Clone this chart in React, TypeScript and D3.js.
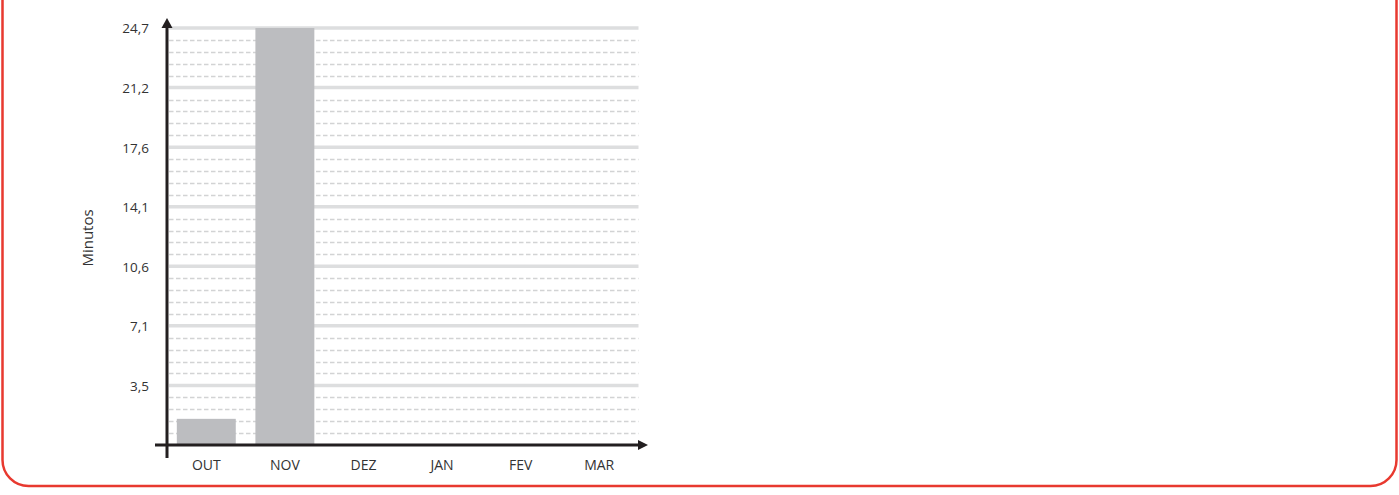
import React, { useRef, useEffect } from 'react';
import * as d3 from 'd3';

// Data
const months = ['OUT', 'NOV', 'DEZ', 'JAN', 'FEV', 'MAR'];
const minutes = [1.55, 24.7, 0, 0, 0, 0];
const tickValues = [3.53, 7.06, 10.59, 14.11, 17.64, 21.17, 24.7];
const tickLabels = ['3,5', '7,1', '10,6', '14,1', '17,6', '21,2', '24,7'];
const yLabel = 'Minutos';

const App = () => {
  const svgRef = useRef<SVGSVGElement>(null);

  useEffect(() => {
    const W = 1399;
    const H = 495;
    const svg = d3.select(svgRef.current).attr('width', W).attr('height', H);
    svg.selectAll('*').remove();

    const font = '"Open Sans", "Noto Sans", sans-serif';

    // Frame
    svg.append('rect')
      .attr('x', 2.5).attr('y', -40)
      .attr('width', W - 5).attr('height', 526)
      .attr('rx', 26).attr('ry', 26)
      .attr('fill', 'none')
      .attr('stroke', '#e8392f')
      .attr('stroke-width', 2.5);

    // Plot area
    const x0 = 167, x1 = 638.5;
    const yTop = 28, yBase = 445;

    const xScale = d3.scaleBand<string>()
      .domain(months)
      .range([x0, x1])
      .paddingInner(0.25)
      .paddingOuter(0.125);
    const yScale = d3.scaleLinear().domain([0, 24.7]).range([yBase, yTop]);

    // Dashed minor grid (5 subdivisions between major ticks)
    const majors = [0, ...tickValues];
    const minors: number[] = [];
    for (let i = 0; i < majors.length - 1; i++) {
      const a = majors[i], b = majors[i + 1];
      for (let k = 1; k < 5; k++) minors.push(a + ((b - a) * k) / 5);
    }
    svg.append('g')
      .selectAll('line')
      .data(minors)
      .join('line')
      .attr('x1', x0 + 2).attr('x2', x1)
      .attr('y1', d => Math.round(yScale(d)) + 0.5).attr('y2', d => Math.round(yScale(d)) + 0.5)
      .attr('stroke', '#d2d3d4')
      .attr('stroke-width', 1.3)
      .attr('stroke-dasharray', '4.5,2.5');

    // Solid major grid
    svg.append('g')
      .selectAll('line')
      .data(tickValues)
      .join('line')
      .attr('x1', x0 + 2).attr('x2', x1)
      .attr('y1', d => yScale(d)).attr('y2', d => yScale(d))
      .attr('stroke', '#dddedf')
      .attr('stroke-width', 3.5);

    // Bars
    svg.append('g')
      .selectAll('rect')
      .data(minutes)
      .join('rect')
      .attr('x', (_, i) => xScale(months[i])!)
      .attr('width', xScale.bandwidth())
      .attr('y', d => yScale(d))
      .attr('height', d => yBase - yScale(d))
      .attr('fill', '#bcbdc0');

    // Axes
    const axisColor = '#231f20';
    svg.append('line')
      .attr('x1', x0).attr('x2', x0)
      .attr('y1', 26).attr('y2', 458)
      .attr('stroke', axisColor).attr('stroke-width', 3);
    svg.append('path')
      .attr('d', `M${x0},18 L${x0 + 5.5},28 L${x0 - 5.5},28 Z`)
      .attr('fill', axisColor);
    svg.append('line')
      .attr('x1', 155).attr('x2', 640)
      .attr('y1', yBase).attr('y2', yBase)
      .attr('stroke', axisColor).attr('stroke-width', 3);
    svg.append('path')
      .attr('d', `M648,${yBase} L638,${yBase - 5} L638,${yBase + 5} Z`)
      .attr('fill', axisColor);

    // Y tick labels
    svg.append('g')
      .selectAll('text')
      .data(tickValues)
      .join('text')
      .attr('x', 149)
      .attr('y', d => yScale(d))
      .attr('dy', '0.4em')
      .attr('text-anchor', 'end')
      .attr('font-family', font)
      .attr('font-size', 13.5)
      .attr('fill', '#333')
      .text((_, i) => tickLabels[i]);

    // X tick labels
    svg.append('g')
      .selectAll('text')
      .data(months)
      .join('text')
      .attr('x', d => xScale(d)! + xScale.bandwidth() / 2)
      .attr('y', 470)
      .attr('text-anchor', 'middle')
      .attr('font-family', font)
      .attr('font-size', 14)
      .attr('fill', '#333')
      .text(d => d);

    // Y axis title
    svg.append('text')
      .attr('transform', 'translate(93,238) rotate(-90)')
      .attr('text-anchor', 'middle')
      .attr('font-family', font)
      .attr('font-size', 15)
      .attr('fill', '#333')
      .text(yLabel);
  }, []);

  return (
    <div style={{ position: 'absolute', left: 0, top: 0 }}>
      <svg ref={svgRef} style={{ display: 'block' }}></svg>
    </div>
  );
};

export default App;
